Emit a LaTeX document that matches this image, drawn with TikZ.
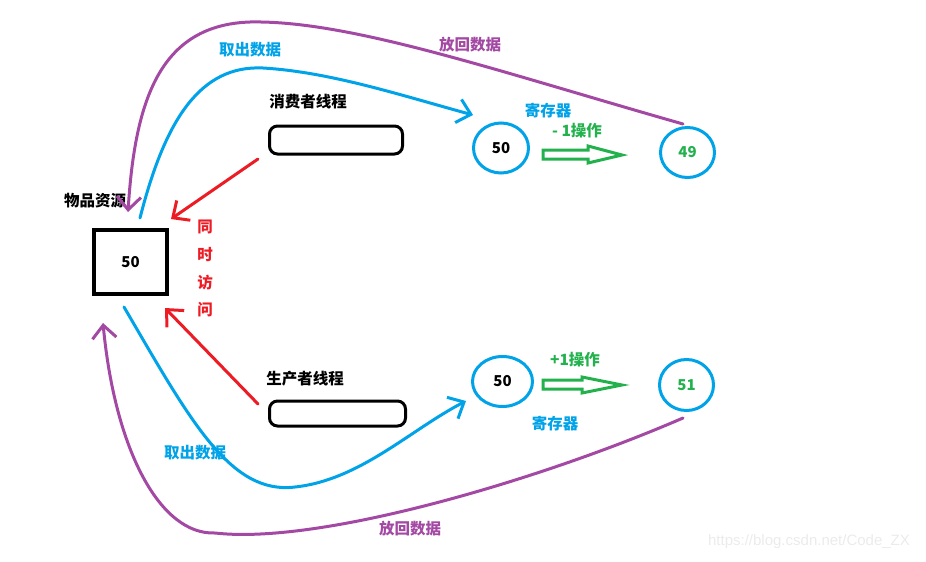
\documentclass[tikz,border=0pt]{standalone}
\usepackage{fontspec}
\newfontfamily\cjk{Noto Sans CJK SC}
\newfontfamily\wmfont{Liberation Sans}
\usetikzlibrary{arrows.meta,shapes.geometric}
\definecolor{pblue}{HTML}{00A2E8}
\definecolor{ppurple}{HTML}{A349A4}
\definecolor{pred}{HTML}{ED1C24}
\definecolor{pgreen}{HTML}{22B14C}
\tikzset{
  lbl/.style={font=\cjk\bfseries\fontsize{15.5}{17}\selectfont, inner sep=0pt},
  num/.style={font=\cjk\bfseries\fontsize{15}{17}\selectfont, inner sep=0pt},
  reg/.style={draw=pblue, line width=3pt, ellipse, inner sep=0pt},
  thread/.style={draw=black, line width=3pt, rounded corners=8pt},
  flow/.style={line width=3pt, line cap=round, -{Straight Barb[length=13pt,width=24pt]}},
  hollow/.style={draw=pgreen, line width=3pt, line join=miter}
}
\begin{document}
\begin{tikzpicture}[x=1pt,y=-1pt]
\useasboundingbox (0,0) rectangle (926,562);
% resource box
\node[draw=black, line width=4pt, minimum width=73pt, minimum height=64pt, inner sep=0pt, num] (res) at (130.5,262) {50};
\node[lbl] (resl) at (95,201) {物品资源};
% threads
\node[thread, minimum width=133pt, minimum height=28pt] (cons) at (336,140) {};
\node[lbl] (consl) at (308,102) {消费者线程};
\node[thread, minimum width=136pt, minimum height=25pt] (prod) at (337.5,413.5) {};
\node[lbl] (prodl) at (305,379) {生产者线程};
% registers
\node[reg, minimum width=55pt, minimum height=50pt, num] (r1) at (501,148) {50};
\node[reg, minimum width=54pt, minimum height=50pt, num, text=pgreen] (r1b) at (687.5,152.5) {49};
\node[reg, minimum width=60pt, minimum height=50pt, num] (r2) at (502.5,381.5) {50};
\node[reg, minimum width=54pt, minimum height=51pt, num, text=pgreen] (r2b) at (686.5,385) {51};
\node[lbl, text=pblue] (reg1l) at (548,111) {寄存器};
\node[lbl, text=pblue] (reg2l) at (555,424) {寄存器};
\node[lbl, text=pgreen] (op1) at (577,131) {- 1操作};
\node[lbl, text=pgreen] (op2) at (575,360) {+1操作};
% labels
\node[lbl, text=pblue] (t1) at (250,50) {取出数据};
\node[lbl, text=ppurple] (t2) at (470,45) {放回数据};
\node[lbl, text=pblue] (t3) at (195,453) {取出数据};
\node[lbl, text=ppurple] (t4) at (410,529) {放回数据};
\node[lbl, text=pred] (s1) at (205,227) {同};
\node[lbl, text=pred] (s2) at (205,255) {时};
\node[lbl, text=pred] (s3) at (205,283) {访};
\node[lbl, text=pred] (s4) at (205,310) {问};
\node[font=\wmfont\fontsize{15}{17}\selectfont, text=black!8, inner sep=0pt] (wm) at (809,542) {https://blog.csdn.net/Code\_ZX};
% free ends of connectors
\coordinate (b1s) at (140,218);
\coordinate (b1e) at (473,115);
\coordinate (p1s) at (683,124);
\coordinate (p1e) at (128,212);
\coordinate (b2s) at (124,307);
\coordinate (b2e) at (466,401);
\coordinate (p2s) at (683,418);
\coordinate (p2e) at (103,323);
\coordinate (rd1s) at (258,159);
\coordinate (rd1e) at (171,219);
\coordinate (rd2s) at (258,404);
\coordinate (rd2e) at (165,308);
% blue flows
\draw[flow, pblue] (b1s) .. controls (165,120) and (200,65) .. (263,68) .. controls (330,72) and (400,95) .. (b1e);
\draw[flow, pblue] (b2s) .. controls (190,420) and (230,495) .. (295,487) .. controls (360,480) and (410,430) .. (b2e);
% purple flows
\draw[flow, ppurple] (p1s) .. controls (500,72) and (350,20) .. (250,22) .. controls (160,25) and (135,100) .. (p1e);
\draw[flow, ppurple] (p2s) .. controls (540,480) and (320,545) .. (215,533) .. controls (160,535) and (115,450) .. (p2e);
% red arrows
\draw[flow, pred] (rd1s) -- (rd1e);
\draw[flow, pred] (rd2s) -- (rd2e);
% green hollow arrows
\draw[hollow] (543,150) -- (588,150) -- (588,146) -- (622,155) -- (588,163) -- (588,159) -- (543,159) -- cycle;
\draw[hollow] (543,380) -- (582,380) -- (582,377) -- (622,385) -- (582,393) -- (582,389) -- (543,389) -- cycle;
\end{tikzpicture}
\end{document}
